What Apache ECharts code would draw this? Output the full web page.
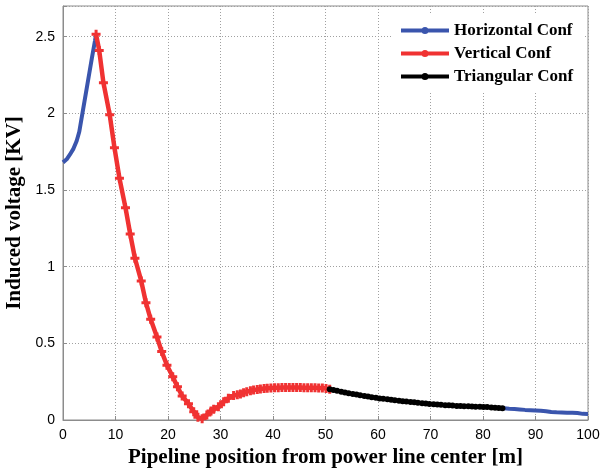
<!DOCTYPE html>
<html>
<head>
<meta charset="utf-8">
<script src="https://cdn.jsdelivr.net/npm/echarts@6/dist/echarts.min.js"></script>
<style>html,body{margin:0;padding:0;background:#fff;}#c{width:603px;height:475px;}</style>
</head>
<body>
<div id="c"></div>
<script>
var seriesNames = ['Horizontal Conf', 'Vertical Conf', 'Triangular Conf'];
var xTicks = [0, 10, 20, 30, 40, 50, 60, 70, 80, 90, 100];
var yTicks = [0, 0.5, 1, 1.5, 2, 2.5];
var xTitle = 'Pipeline position from power line center [m]';
var yTitle = 'Induced voltage [KV]';

var horizontal = [
  [0, 1.68], [0.7, 1.70], [1.3, 1.73], [2, 1.77], [2.6, 1.82], [3.1, 1.88], [3.6, 1.98],
  [4.1, 2.08], [4.5, 2.16], [5, 2.26], [5.5, 2.36], [6.1, 2.475], [6.3, 2.515],
  [50, '-'],
  [84, 0.076], [85, 0.073], [86, 0.071], [87, 0.069], [88, 0.066], [89, 0.064], [90, 0.062],
  [91, 0.060], [92, 0.057], [93, 0.052], [94, 0.050], [95, 0.049], [96, 0.048], [97, 0.047],
  [98, 0.045], [99, 0.040], [100, 0.039]
];
var vertical = [
  [6.3, 2.515], [6.9, 2.41], [7.7, 2.20], [8.9, 1.99], [9.8, 1.776], [10.75, 1.577], [11.9, 1.385],
  [12.8, 1.213], [13.7, 1.055], [14.9, 0.907], [15.8, 0.765], [16.7, 0.657], [17.9, 0.541],
  [18.8, 0.446], [19.8, 0.357], [20.9, 0.282], [21.8, 0.217], [22.7, 0.157], [23.9, 0.106],
  [24.9, 0.054], [25.7, 0.018], [26.5, 0.008], [27.4, 0.033], [28.2, 0.058], [28.7, 0.07],
  [29.6, 0.087], [30.6, 0.119], [31.5, 0.142], [32.5, 0.159], [33.2, 0.165], [33.8, 0.17],
  [34.4, 0.178], [35, 0.185], [35.7, 0.19], [36.3, 0.196], [37, 0.199], [37.6, 0.202],
  [38.3, 0.205], [38.9, 0.207], [39.6, 0.209], [40.3, 0.21], [41, 0.211], [41.7, 0.212],
  [42.4, 0.212], [43.1, 0.212], [43.8, 0.212], [44.5, 0.212], [45.2, 0.212], [45.9, 0.211],
  [46.6, 0.211], [47.3, 0.21], [48, 0.21], [48.7, 0.209], [49.4, 0.208], [50.1, 0.206], [50.8, 0.2]
];
var triangular = [
  [50.8, 0.2], [51.5, 0.195], [52.2, 0.19], [53, 0.184], [53.7, 0.18], [54.4, 0.175], [55.2, 0.17],
  [55.9, 0.166], [56.6, 0.162], [57.4, 0.157], [58.1, 0.153], [58.8, 0.149], [59.6, 0.145],
  [60.3, 0.141], [61, 0.138], [61.8, 0.135], [62.5, 0.132], [63.2, 0.129], [64, 0.126],
  [64.7, 0.123], [65.4, 0.12], [66.2, 0.118], [66.9, 0.115], [67.6, 0.113], [68.4, 0.11],
  [69.1, 0.108], [69.8, 0.105], [70.6, 0.103], [71.3, 0.101], [72, 0.099], [72.8, 0.097],
  [73.5, 0.096], [74.2, 0.094], [75, 0.092], [75.7, 0.091], [76.4, 0.09], [77.2, 0.089],
  [77.9, 0.088], [78.6, 0.087], [79.4, 0.086], [80.1, 0.085], [80.8, 0.084], [81.6, 0.082],
  [82.3, 0.08], [83, 0.078], [83.7, 0.076]
];

var legendIcon = 'path://M0,3.5H48V7.5H0Z M24,2 A3.5,3.5 0 1,1 24,9 A3.5,3.5 0 1,1 24,2Z';
var crossSym = 'path://M3,0H6V3H9V6H6V9H3V6H0V3H3Z';

var chart = echarts.init(document.getElementById('c'), null, {renderer: 'canvas'});
var serif = '"Liberation Serif", "Times New Roman", serif';
var sans = '"Liberation Sans", Arial, sans-serif';

chart.setOption({
  animation: false,
  backgroundColor: '#fff',
  grid: {left: 63, right: 15, top: 6, bottom: 55, show: true, borderColor: '#8c8c8c', borderWidth: 1,
    containLabel: false, outerBoundsMode: 'none'},
  legend: {
    orient: 'vertical', left: 391, top: 14, padding: [8, 10, 8, 10], backgroundColor: '#fff',
    itemWidth: 48, itemHeight: 7, itemGap: 6,
    textStyle: {fontFamily: serif, fontWeight: 'bold', fontSize: 17, color: '#000', lineHeight: 17},
    data: seriesNames.map(function (n) { return {name: n, icon: legendIcon}; })
  },
  xAxis: {
    type: 'value', min: xTicks[0], max: xTicks[xTicks.length - 1], interval: 10,
    name: xTitle, nameLocation: 'middle', nameGap: 27,
    nameTextStyle: {fontFamily: serif, fontWeight: 'bold', fontSize: 21, color: '#000'},
    axisLine: {show: true, onZero: false, lineStyle: {color: '#8c8c8c', width: 1}},
    axisTick: {show: true, inside: true, length: 4, lineStyle: {color: '#8c8c8c'}},
    axisLabel: {fontFamily: sans, fontSize: 14, color: '#000', margin: 8},
    splitLine: {show: true, lineStyle: {color: '#a0a0a0', type: [1, 2], width: 1}}
  },
  yAxis: {
    type: 'value', min: 0, max: 2.7, interval: 0.5,
    name: yTitle, nameLocation: 'middle', nameGap: 30,
    nameTextStyle: {fontFamily: serif, fontWeight: 'bold', fontSize: 21, color: '#000'},
    axisLine: {show: true, onZero: false, lineStyle: {color: '#8c8c8c', width: 1}},
    axisTick: {show: true, inside: true, length: 4, lineStyle: {color: '#8c8c8c'}},
    axisLabel: {fontFamily: sans, fontSize: 14, color: '#000', margin: 8,
      formatter: function (v) { return yTicks.indexOf(Math.round(v * 100) / 100) >= 0 ? String(v) : ''; }},
    splitLine: {show: true, lineStyle: {color: '#a0a0a0', type: [1, 2], width: 1}}
  },
  series: [
    {name: seriesNames[0], type: 'line', data: horizontal, showSymbol: false, symbol: 'circle',
      connectNulls: false, lineStyle: {color: '#3a55ad', width: 4}, itemStyle: {color: '#3a55ad'}, z: 2},
    {name: seriesNames[1], type: 'line', data: vertical, symbol: crossSym, symbolSize: 9,
      lineStyle: {color: '#f03232', width: 4.5}, itemStyle: {color: '#f03232'}, z: 3},
    {name: seriesNames[2], type: 'line', data: triangular, symbol: 'circle', symbolSize: 6,
      lineStyle: {color: '#000', width: 3.5}, itemStyle: {color: '#000'}, z: 4}
  ]
});
</script>
</body>
</html>
